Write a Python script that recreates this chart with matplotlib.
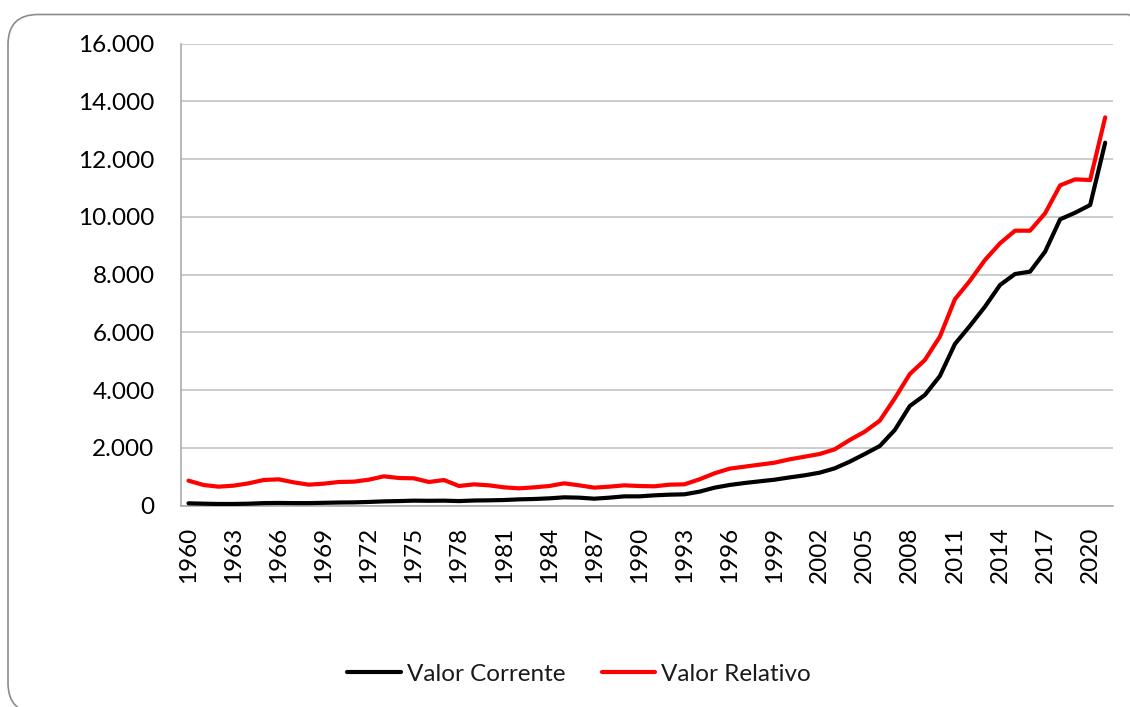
import matplotlib
matplotlib.use("Agg")
import matplotlib.pyplot as plt
from matplotlib.patches import FancyBboxPatch
from matplotlib.ticker import FuncFormatter, MultipleLocator

years = list(range(1960, 2022))
valor_corrente = [83, 70, 60, 60, 70, 90, 95, 90, 90, 100,
                  110, 115, 130, 150, 160, 175, 170, 175, 160, 180,
                  186, 197, 220, 232, 255, 290, 278, 243, 278, 324,
                  324, 359, 382, 394, 486, 624, 717, 786, 844, 901,
                  980, 1052, 1144, 1294, 1525, 1790, 2067, 2622, 3453, 3834,
                  4492, 5600, 6230, 6893, 7643, 8024, 8105, 8797, 9917, 10147,
                  10413, 12572]
valor_relativo = [867, 717, 659, 694, 775, 890, 913, 809, 728, 763,
                  821, 832, 901, 1017, 959, 948, 821, 890, 682, 740,
                  705, 636, 601, 636, 682, 775, 705, 625, 659, 705,
                  682, 671, 728, 740, 913, 1121, 1282, 1352, 1421, 1490,
                  1606, 1698, 1790, 1952, 2275, 2564, 2945, 3718, 4561, 5045,
                  5854, 7150, 7790, 8509, 9086, 9524, 9524, 10125, 11094, 11302,
                  11279, 13449]
series_names = ["Valor Corrente", "Valor Relativo"]

plt.rcParams['font.family'] = ['Lato', 'DejaVu Sans']
FS = 17.5

W, H = 1130, 707
fig = plt.figure(figsize=(W / 100, H / 100), dpi=100)

# rounded chart border
border = FancyBboxPatch((8, -6), 1150, 698.5, boxstyle="round,pad=0,rounding_size=30",
                        transform=None, facecolor="none", edgecolor="#8c8c8c", linewidth=1.2)
fig.add_artist(border)

left, right, top, bottom = 181, 1112.7, 43.7, 505.7
ax = fig.add_axes([left / W, 1 - bottom / H, (right - left) / W, (bottom - top) / H])

x = list(range(len(years)))
ax.plot(x, valor_corrente, color="black", lw=3, solid_joinstyle="round",
        solid_capstyle="round", label=series_names[0], zorder=3)
ax.plot(x, valor_relativo, color="#ff0000", lw=3, solid_joinstyle="round",
        solid_capstyle="round", label=series_names[1], zorder=3)

ax.set_xlim(-0.5, len(years) - 0.5)
ax.set_ylim(0, 16000)
ax.yaxis.set_major_locator(MultipleLocator(2000))
ax.yaxis.set_major_formatter(FuncFormatter(lambda v, p: f"{int(v):,}".replace(",", ".")))
ax.grid(axis="y", color="#bfbfbf", lw=1.1, zorder=0)
ax.set_axisbelow(True)

tick_idx = x[::3]
ax.set_xticks(tick_idx)
ax.set_xticklabels([str(years[i]) for i in tick_idx], rotation=90)

for s in ["top", "right"]:
    ax.spines[s].set_visible(False)
for s in ["left", "bottom"]:
    ax.spines[s].set_color("#a6a6a6")
    ax.spines[s].set_linewidth(1.1)

ax.tick_params(axis="y", length=0, pad=19, labelsize=FS, labelcolor="black")
ax.tick_params(axis="x", length=0, pad=15, labelsize=FS, labelcolor="black")

fig.legend(loc="center", bbox_to_anchor=(579 / W, 1 - 674 / H), ncol=2, frameon=False,
           fontsize=FS, handlelength=2.2, handletextpad=0.25, columnspacing=1.5,
           labelcolor="#1a1a1a")

fig.savefig("out.png", dpi=100)
